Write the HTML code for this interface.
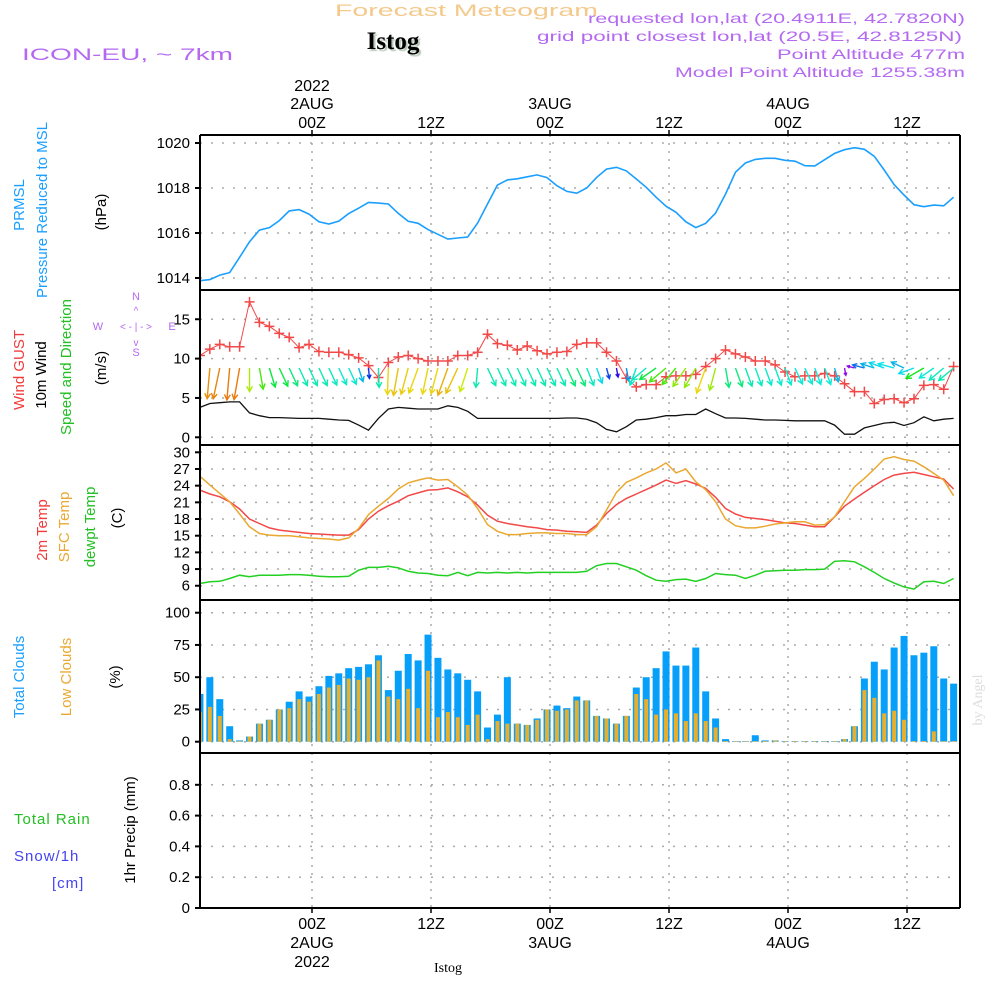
<!DOCTYPE html>
<html><head><meta charset="utf-8"><title>Istog meteogram</title>
<style>
html,body{margin:0;padding:0;background:#fff;}
svg{display:block;}
text{font-family:"Liberation Sans Narrow","Liberation Sans",sans-serif;}
.hdr{font-family:"Liberation Sans",sans-serif;}
</style></head>
<body>
<svg id="chart" width="1000" height="1000" viewBox="0 0 1000 1000" xmlns="http://www.w3.org/2000/svg">
<g id="header">
<text class="hdr" x="335" y="16" font-size="17" fill="#f4c98c" textLength="263" lengthAdjust="spacingAndGlyphs">Forecast Meteogram</text>
<text x="393" y="49" font-size="25" font-weight="bold" fill="#000" text-anchor="middle" style="font-family:'Liberation Serif',serif;text-shadow:2px 2px 1px #b8c8b8">Istog</text>
<text class="hdr" x="22" y="60" font-size="17" fill="#b469f0" textLength="211" lengthAdjust="spacingAndGlyphs">ICON-EU, ~ 7km</text>
<text class="hdr" x="588" y="23" font-size="14" fill="#b469f0" textLength="377" lengthAdjust="spacingAndGlyphs">requested lon,lat (20.4911E, 42.7820N)</text>
<text class="hdr" x="537" y="41" font-size="14" fill="#b469f0" textLength="425" lengthAdjust="spacingAndGlyphs">grid point closest lon,lat (20.5E, 42.8125N)</text>
<text class="hdr" x="777" y="59" font-size="14" fill="#b469f0" textLength="188" lengthAdjust="spacingAndGlyphs">Point Altitude 477m</text>
<text class="hdr" x="675" y="77" font-size="14" fill="#b469f0" textLength="290" lengthAdjust="spacingAndGlyphs">Model Point Altitude 1255.38m</text>
</g>
<g id="labels">
<text transform="translate(24,205) rotate(-90)" font-size="15" fill="#1a9fff" text-anchor="middle">PRMSL</text>
<text transform="translate(47,210) rotate(-90)" font-size="15" fill="#1a9fff" text-anchor="middle">Pressure Reduced to MSL</text>
<text transform="translate(106,212) rotate(-90)" font-size="15" fill="#000" text-anchor="middle">(hPa)</text>
<text transform="translate(24,370) rotate(-90)" font-size="15" fill="#f03c3c" text-anchor="middle">Wind GUST</text>
<text transform="translate(46,375) rotate(-90)" font-size="15" fill="#000" text-anchor="middle">10m Wind</text>
<text transform="translate(71,367) rotate(-90)" font-size="15" fill="#22c022" text-anchor="middle">Speed and Direction</text>
<text transform="translate(106,368) rotate(-90)" font-size="15" fill="#000" text-anchor="middle">(m/s)</text>
<g fill="#b469f0" font-size="11" text-anchor="middle">
<text x="136" y="300">N</text><text x="136" y="356">S</text><text x="98" y="330">W</text><text x="172" y="330">E</text>
<text x="136" y="330" font-size="10">&lt; - | - &gt;</text>
<text x="136" y="314" font-size="10">^</text><text x="136" y="346" font-size="10">v</text>
</g>
<text transform="translate(47,530) rotate(-90)" font-size="15" fill="#f03c3c" text-anchor="middle">2m Temp</text>
<text transform="translate(69,527) rotate(-90)" font-size="15" fill="#eaa830" text-anchor="middle">SFC Temp</text>
<text transform="translate(95,527) rotate(-90)" font-size="15" fill="#22c022" text-anchor="middle">dewpt Temp</text>
<text transform="translate(122,518) rotate(-90)" font-size="15" fill="#000" text-anchor="middle">(C)</text>
<text transform="translate(24,677) rotate(-90)" font-size="15" fill="#1a9fff" text-anchor="middle">Total Clouds</text>
<text transform="translate(71,677) rotate(-90)" font-size="15" fill="#eaa830" text-anchor="middle">Low Clouds</text>
<text transform="translate(120,677) rotate(-90)" font-size="15" fill="#000" text-anchor="middle">(%)</text>
<text x="14" y="824" font-size="15" fill="#22c022" letter-spacing="1">Total  Rain</text>
<text x="14" y="861" font-size="15" fill="#4444f0" letter-spacing="1">Snow/1h</text>
<text x="52" y="888" font-size="15" fill="#4444f0" letter-spacing="1">[cm]</text>
<text transform="translate(135,830) rotate(-90)" font-size="15" fill="#000" text-anchor="middle">1hr Precip (mm)</text>
<text transform="translate(982,700) rotate(-90)" font-size="14" fill="#dddddd" text-anchor="middle" style="font-family:'Liberation Serif',serif">by Angel</text>
<text x="448" y="972" font-size="14" fill="#000" text-anchor="middle" style="font-family:'Liberation Serif',serif">Istog</text>
</g>
</svg>
<script>
// ---- data (hourly, first point ~12.7Z 1 AUG) ----
const timeLabels = ["00Z","12Z","00Z","12Z","00Z","12Z"];
const dateLabels = ["2AUG","","3AUG","","4AUG",""];
const tickHours = [0,12,24,36,48,60];
const pressure = [1013.88,1013.93,1014.13,1014.24,1014.92,1015.61,1016.13,1016.24,1016.55,1016.98,1017.04,1016.84,1016.50,1016.40,1016.53,1016.86,1017.10,1017.36,1017.33,1017.29,1016.87,1016.52,1016.43,1016.15,1015.94,1015.73,1015.78,1015.82,1016.44,1017.29,1018.13,1018.36,1018.41,1018.50,1018.58,1018.46,1018.10,1017.85,1017.77,1018.0,1018.47,1018.84,1018.92,1018.76,1018.40,1018.03,1017.59,1017.19,1016.92,1016.50,1016.24,1016.43,1016.89,1017.73,1018.70,1019.11,1019.27,1019.32,1019.32,1019.23,1019.19,1018.99,1018.98,1019.26,1019.54,1019.70,1019.79,1019.72,1019.41,1018.80,1018.15,1017.69,1017.26,1017.17,1017.24,1017.21,1017.59];
const gust = [10.4,11.2,11.8,11.5,11.5,17.2,14.6,14.1,13.2,12.7,11.4,11.8,10.9,10.8,10.8,10.5,10.1,9.1,7.6,9.5,10.2,10.4,10.0,9.7,9.7,9.7,10.4,10.4,10.8,13.1,11.9,11.7,11.1,11.6,11.0,10.6,10.8,10.9,11.8,12.0,12.0,10.8,9.7,7.5,6.4,6.7,6.7,7.7,7.8,7.8,8.0,9.0,10.0,11.1,10.6,10.2,9.7,9.7,9.2,8.3,7.7,7.8,7.8,8.1,7.8,6.8,5.8,5.8,4.3,4.8,4.9,4.4,4.9,6.6,6.7,6.1,9.0];
const windSpeed = [3.8,4.3,4.4,4.5,4.5,3.1,2.75,2.5,2.5,2.45,2.4,2.4,2.4,2.3,2.2,2.15,1.55,0.9,2.4,3.6,3.8,3.7,3.6,3.6,3.6,4.0,3.8,3.3,2.4,2.4,2.4,2.4,2.4,2.4,2.4,2.4,2.4,2.45,2.45,2.3,1.85,1.0,0.7,1.35,2.2,2.3,2.5,2.75,2.75,2.9,2.9,3.6,3.0,2.45,2.45,2.4,2.3,2.2,2.2,2.15,2.1,2.1,2.1,2.1,1.55,0.4,0.4,1.2,1.5,1.8,1.9,1.5,1.85,2.6,2.1,2.3,2.4];
const windDir = [195,185,192,185,190,180,170,163,155,155,155,155,155,155,155,155,162,175,178,182,190,195,200,192,195,200,205,198,185,155,155,155,155,155,155,155,155,155,155,158,160,165,170,170,200,230,235,230,220,215,210,200,195,170,160,160,160,160,160,160,155,155,160,160,165,170,285,285,288,290,285,295,250,240,235,230,230];
const temp2m = [23.2,22.5,22.0,21.1,19.8,18.0,17.2,16.4,16.0,15.8,15.6,15.4,15.3,15.2,15.1,15.1,16.1,18.0,19.4,20.4,21.2,22.2,22.7,23.2,23.3,23.6,22.9,22.0,20.5,18.7,17.6,17.2,16.9,16.6,16.4,16.1,16.0,15.8,15.7,15.6,16.9,19.0,20.6,21.7,22.5,23.3,24.1,25.0,24.4,24.9,24.3,23.5,21.9,19.9,18.9,18.3,18.1,17.9,17.6,17.3,17.2,16.9,16.6,16.6,18.4,20.3,21.6,22.8,24.0,25.1,25.9,26.2,26.4,26.0,25.6,25.2,23.4];
const tempSfc = [25.7,24.1,22.6,21.1,18.9,16.6,15.4,15.1,15.0,15.0,14.8,14.6,14.5,14.4,14.2,14.6,16.3,18.8,20.3,21.7,23.4,24.5,25.0,25.4,25.0,25.1,23.8,22.3,19.9,17.0,15.8,15.2,15.2,15.4,15.5,15.5,15.4,15.4,15.2,15.2,16.6,19.6,22.8,24.6,25.4,26.3,27.0,28.1,26.3,27.0,24.7,23.3,21.1,18.0,16.8,16.4,16.4,16.7,17.1,17.3,17.5,17.5,16.9,17.0,18.4,21.1,23.8,25.3,27.0,28.8,29.2,28.7,28.4,27.4,26.2,25.0,22.2];
const dewpt = [6.4,6.7,6.8,7.3,7.9,7.6,7.9,7.9,7.9,8.0,8.0,7.9,7.7,7.6,7.6,7.7,8.8,9.3,9.3,9.5,9.2,8.6,8.3,8.2,7.9,7.8,8.4,7.8,8.4,8.3,8.4,8.3,8.4,8.3,8.4,8.4,8.4,8.4,8.4,8.6,9.6,10.0,10.0,9.4,8.8,7.8,7.0,6.8,7.1,7.2,6.8,7.3,8.2,8.0,7.9,7.3,7.9,8.6,8.7,8.8,8.8,8.9,8.9,9.0,10.4,10.5,10.3,9.4,8.4,7.3,6.5,5.8,5.4,6.7,6.8,6.4,7.3];
const totalClouds = [37,50,33,12,1,4,14,17,25,31,39,35,43,51,53,57,58,60,67,40,55,68,63,83,65,56,53,48,39,11,21,50,14,13,18,25,28,26,35,32,20,18,14,20,42,50,57,70,59,59,73,39,18,2,0.5,0.5,5,1,1,0.5,0.5,0.5,0.5,0.5,0.5,2,12,49,62,56,73,82,67,69,74,49,45];
const lowClouds = [23,27,20,2,0.5,4,14,17,25,26,33,31,37,42,44,49,48,50,63,35,33,41,26,55,19,23,19,13,21,2,16,14,14,13,17,25,24,25,32,32,20,18,14,20,37,33,21,25,22,16,22,16,11,0.5,0.5,0.5,0.5,0.5,1,0.5,0.5,0.5,0.5,0.5,0.5,2,12,40,34,22,24,17,0.5,0.5,8,0.5,0.5];
const precip = new Array(77).fill(0);
const pTicks = [1014,1016,1018,1020];
const wTicks = [0,5,10,15];
const tTicks = [6,9,12,15,18,21,24,27,30];
const cTicks = [0,25,50,75,100];
const rTicks = [0,0.2,0.4,0.6,0.8];

// ---- geometry ----
const L=200, R=960, T0=-11.3, PXH=9.917;
const X = t => 312 + t*PXH;
const xi = i => X(T0+i);
const panels = {
  p:{top:135,bot:290, y:v=>143+(1020-v)*22.5},
  w:{top:290,bot:445, y:v=>437.3-v*7.87},
  t:{top:445,bot:600, y:v=>452.3+(30-v)*5.56},
  c:{top:600,bot:753, y:v=>741.7-v*1.29},
  r:{top:753,bot:908, y:v=>908-v*154}
};
const NS="http://www.w3.org/2000/svg";
const svg=document.getElementById('chart');
function el(tag,attrs,parent){const e=document.createElementNS(NS,tag);for(const k in attrs)e.setAttribute(k,attrs[k]);(parent||svg).appendChild(e);return e;}

const defs=el('defs',{});
const cp=el('clipPath',{id:'plotclip'},defs);
el('rect',{x:L,y:135,width:R-L,height:773},cp);

function drawPanel(key,ticks,fmt,name){
  const P=panels[key];
  const g=el('g',{});
  
  
  ticks.forEach(v=>{
    const y=P.y(v);
    const gl=el('line',{x1:L,x2:R,y1:y,y2:y,stroke:'#aaa','stroke-width':1.5,'stroke-dasharray':'2,9'},g);
    
    
    const tk=el('line',{x1:L-5,x2:L,y1:y,y2:y,stroke:'#000','stroke-width':2},g);
    
    
    const tx=el('text',{x:L-10,y:y+5,'font-size':15,'text-anchor':'end',fill:'#000'},g);
    tx.textContent=fmt(v);
    
    
  });
  tickHours.forEach(h=>{
    const x=X(h);
    const vl=el('line',{x1:x,x2:x,y1:P.top,y2:P.bot,stroke:'#aaa','stroke-width':1.5,'stroke-dasharray':'2,6'},g);
    
    
  });
  return g;
}
drawPanel('p',pTicks,v=>v,'pressure');
drawPanel('w',wTicks,v=>v,'wind');
drawPanel('t',tTicks,v=>v,'temperature');
drawPanel('c',cTicks,v=>v,'clouds');
drawPanel('r',rTicks,v=>v===0?'0':v.toFixed(1),'precip');

function line(arr,P,color,name,w){
  const d=arr.map((v,i)=>(i?'L':'M')+xi(i).toFixed(1)+','+P.y(v).toFixed(1)).join('');
  const p=el('path',{d:d,fill:'none',stroke:color,'stroke-width':w||1.5,'clip-path':'url(#plotclip)'});
  
  
  return p;
}
line(pressure,panels.p,'#1a9fff','pressure-line',1.6);
const cg=el('g',{'clip-path':'url(#plotclip)'});


totalClouds.forEach((v,i)=>{
  const x=xi(i), y=panels.c.y(v);
  const b=el('rect',{x:x-3.5,y:y,width:7,height:panels.c.y(0)-y,fill:'#069ffa'},cg);
  
  
  const lv=lowClouds[i], ly=panels.c.y(lv);
  const b2=el('rect',{x:x-2,y:ly,width:4,height:panels.c.y(0)-ly,fill:'#e8ae2c'},cg);
  
  
});
line(temp2m,panels.t,'#f24848','temp-2m-line',1.5);
line(tempSfc,panels.t,'#eaa830','temp-sfc-line',1.5);
line(dewpt,panels.t,'#22d022','dewpoint-line',1.5);
line(windSpeed,panels.w,'#111','wind-speed-line',1.3);
line(gust,panels.w,'#f24848','gust-line',1);
gust.forEach((v,i)=>{
  const x=xi(i), y=panels.w.y(v);
  const m=el('path',{d:`M${x-5},${y}H${x+5}M${x},${y-5}V${y+5}`,stroke:'#f24848','stroke-width':1.5,'clip-path':'url(#plotclip)'});
  
  
});
const hueStops=[[0.4,275],[0.9,230],[1.5,195],[2.4,165],[2.5,135],[2.9,85],[3.6,55],[4.5,30]];
function hue(s){ if(s<=hueStops[0][0])return hueStops[0][1];
  for(let k=1;k<hueStops.length;k++){ if(s<=hueStops[k][0]){const a=hueStops[k-1],b=hueStops[k];return a[1]+(b[1]-a[1])*(s-a[0])/(b[0]-a[0]);}}
  return 30;}
windDir.forEach((d,i)=>{
  const s=windSpeed[i], len=5+6*s, r=d*Math.PI/180;
  const x0=xi(i), y0=368, dx=Math.sin(r), dy=-Math.cos(r);
  const x1=x0+dx*len, y1=y0+dy*len;
  const hl=Math.min(6,len*0.4), a=0.5;
  const bx=-dx, by=-dy;
  const h1x=x1+hl*(bx*Math.cos(a)-by*Math.sin(a)), h1y=y1+hl*(bx*Math.sin(a)+by*Math.cos(a));
  const h2x=x1+hl*(bx*Math.cos(-a)-by*Math.sin(-a)), h2y=y1+hl*(bx*Math.sin(-a)+by*Math.cos(-a));
  const col=`hsl(${hue(s)},90%,48%)`;
  const ar=el('path',{d:`M${x0},${y0}L${x1},${y1}M${h1x},${h1y}L${x1},${y1}L${h2x},${h2y}`,stroke:col,'stroke-width':1.4,fill:'none','clip-path':'url(#plotclip)'});
  
  
});
line(precip,panels.r,'#000','precip-line',1.5).setAttribute('stroke-dasharray','6,3');

[135,290,445,600,753,908].forEach(y=>{
  const f=el('line',{x1:L,x2:R,y1:y,y2:y,stroke:'#000','stroke-width':2});
  
  
});
[L,R].forEach(x=>{
  const f=el('line',{x1:x,x2:x,y1:135,y2:908,stroke:'#000','stroke-width':2});
  
  
});
tickHours.forEach((h,k)=>{
  const x=X(h);
  [[135,130],[908,913]].forEach(([a,b])=>{
    const t=el('line',{x1:x,x2:x,y1:a,y2:b,stroke:'#000','stroke-width':1.5});
    
    
  });
  const tt=el('text',{x:x,y:128,'font-size':16,'text-anchor':'middle'});
  tt.textContent=timeLabels[k];
  
  
  const tb=el('text',{x:x,y:929,'font-size':16,'text-anchor':'middle'});
  tb.textContent=timeLabels[k];
  
  
  if(dateLabels[k]){
    const d1=el('text',{x:x,y:109,'font-size':16,'text-anchor':'middle'});
    d1.textContent=dateLabels[k];
    
    
    const d2=el('text',{x:x,y:948,'font-size':16,'text-anchor':'middle'});
    d2.textContent=dateLabels[k];
    
    
  }
  if(k===0){
    const y1=el('text',{x:x,y:91,'font-size':16,'text-anchor':'middle'});
    y1.textContent='2022';
    
    
    const y2=el('text',{x:x,y:967,'font-size':16,'text-anchor':'middle'});
    y2.textContent='2022';
    
    
  }
});
</script>
</body></html>
